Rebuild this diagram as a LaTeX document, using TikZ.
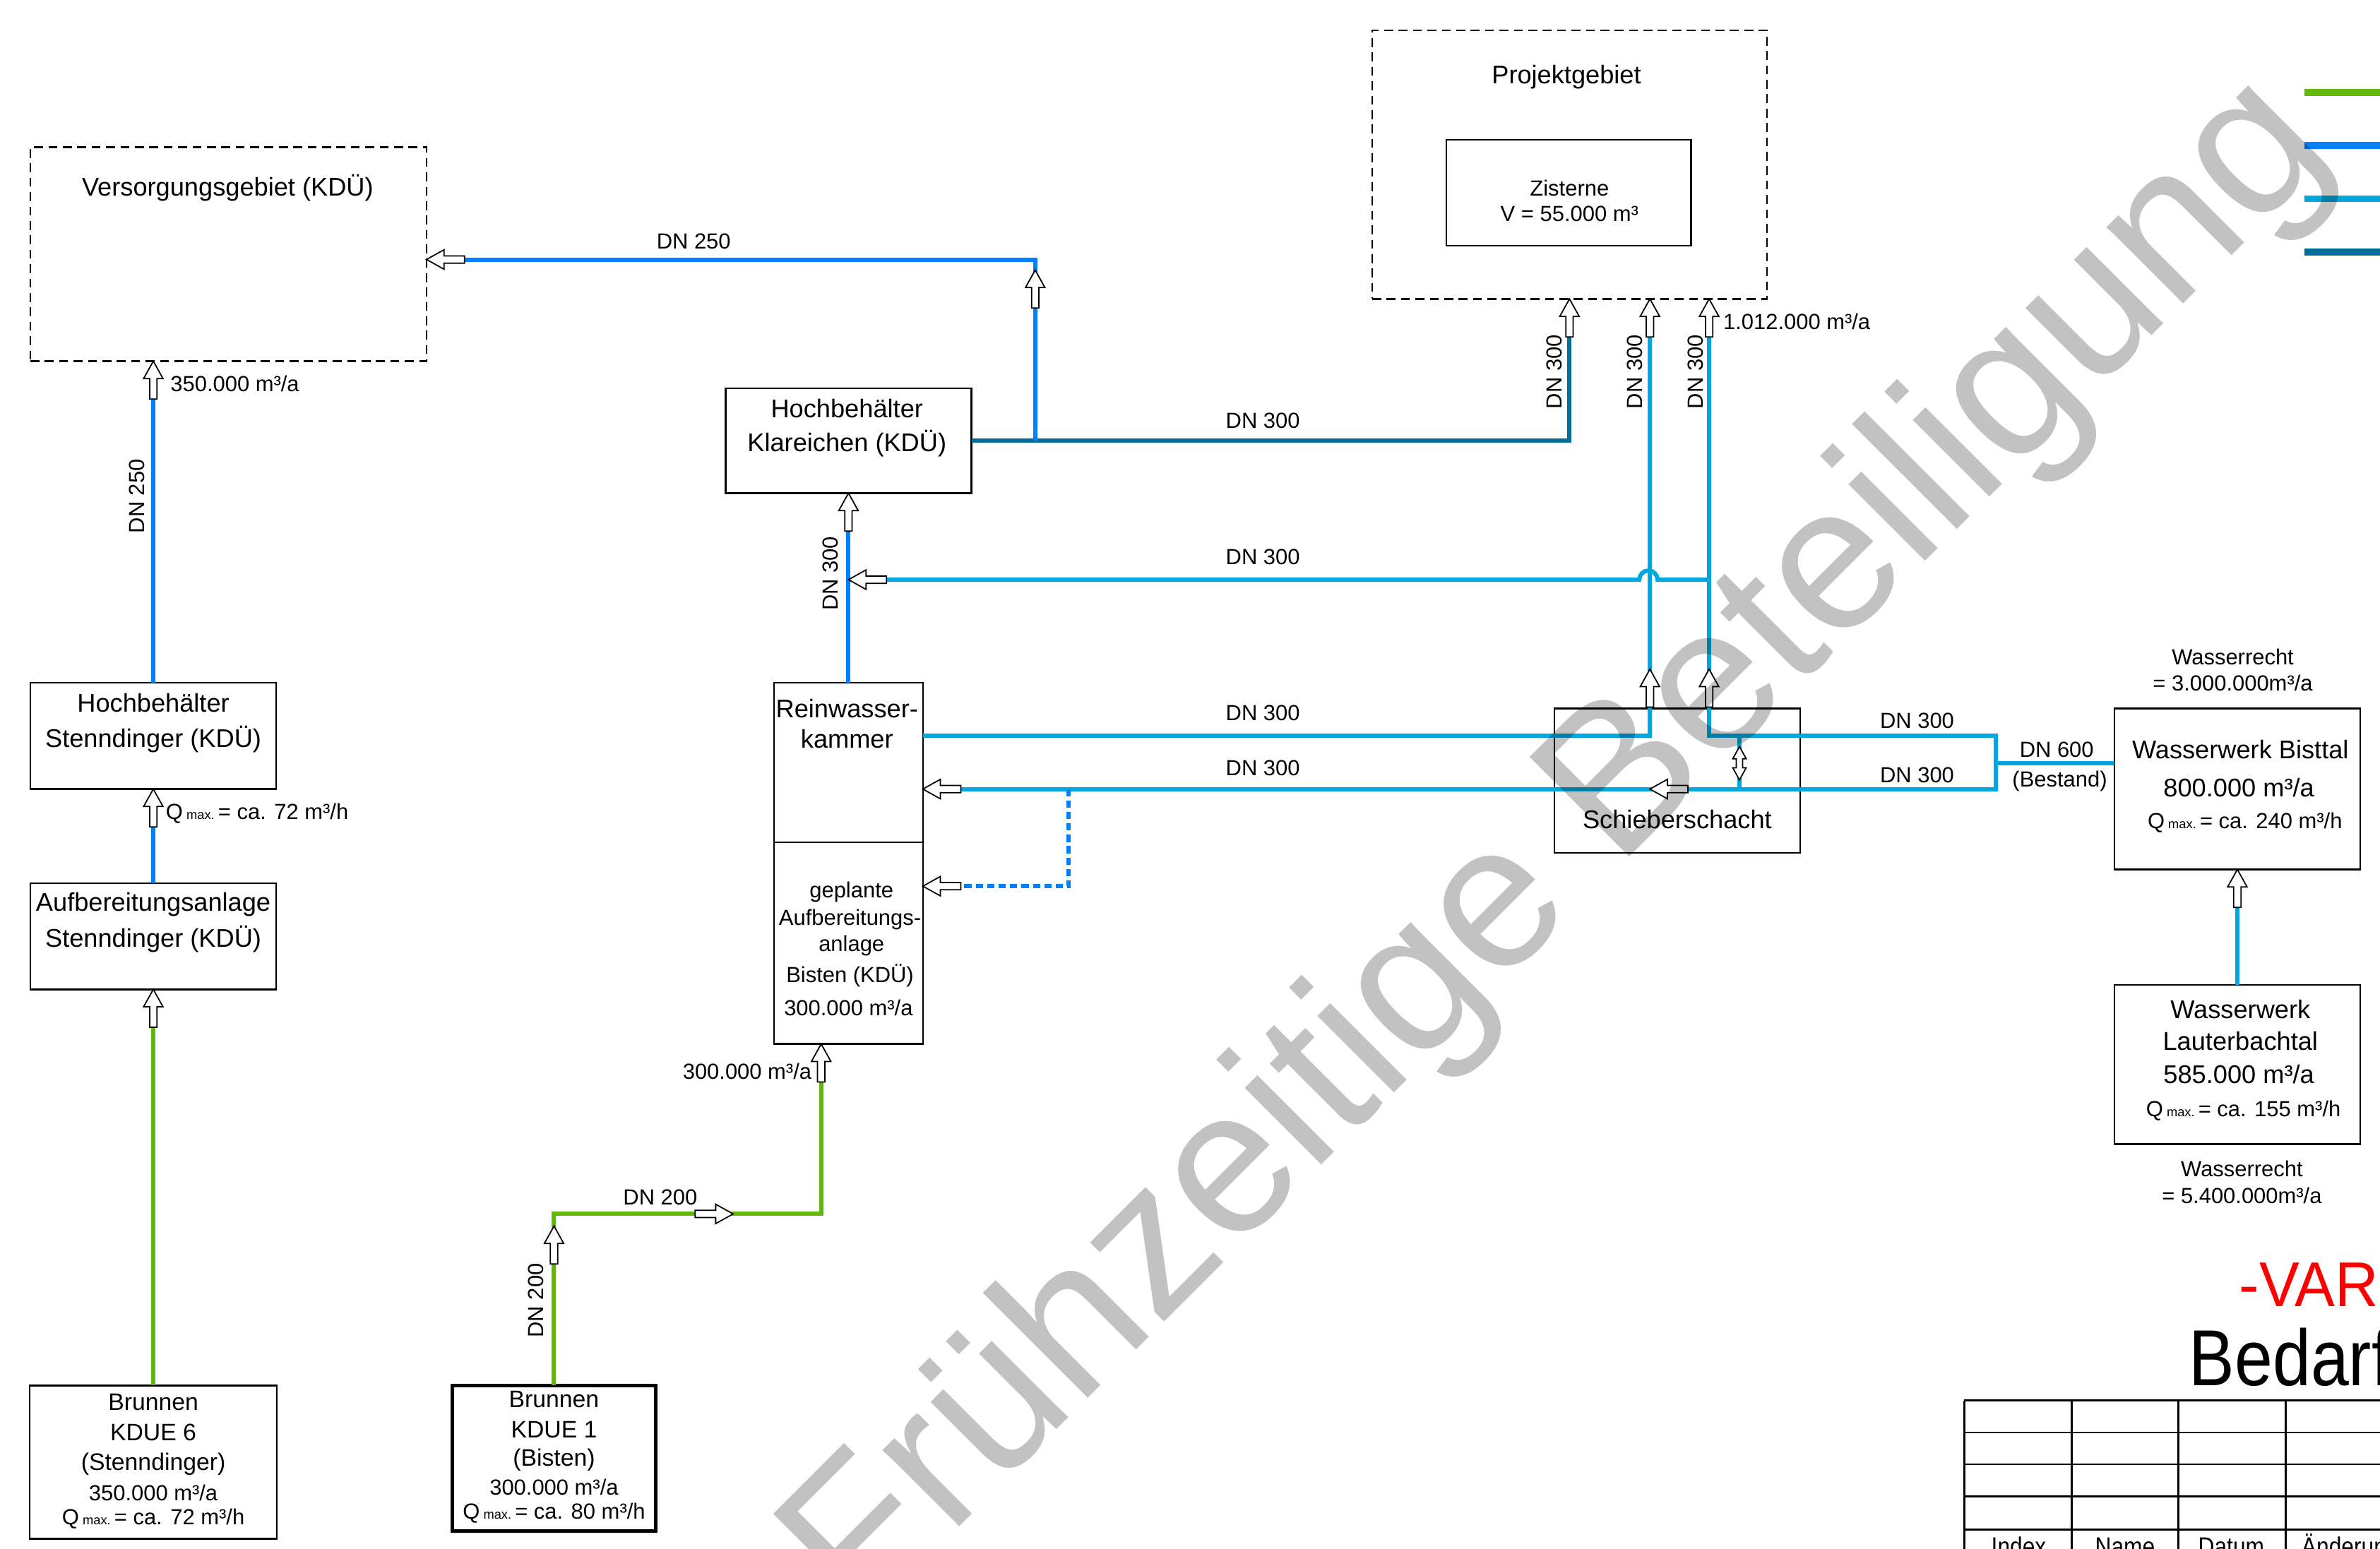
\documentclass[tikz,border=0pt]{standalone}
\usepackage{fontspec}
\setmainfont{Liberation Sans}
\newfontfamily\isofont[FakeStretch=0.86]{Liberation Sans}
\newfontfamily\varfont[FakeStretch=0.95]{Liberation Sans}
\usetikzlibrary{calc}
\definecolor{pgreen}{RGB}{98,184,10}
\definecolor{pblue}{RGB}{0,128,255}
\definecolor{plight}{RGB}{0,166,222}
\definecolor{pteal}{RGB}{0,110,150}
\definecolor{vred}{RGB}{255,0,0}
\def\px{0.021492cm}
\newcommand\qmax{Q\,{\fontsize{5.2}{6}\selectfont max.}\,}
\begin{document}
\begin{tikzpicture}[x=0.021492cm,y=-0.021492cm,
  box/.style={draw=black,line width=0.7pt,inner sep=0pt,outer sep=0pt},
  dbox/.style={box,dash pattern=on 3.6pt off 2.2pt},
  pipe/.style={line width=1.7pt},
  pG/.style={pipe,draw=pgreen},
  pB/.style={pipe,draw=pblue},
  pL/.style={pipe,draw=plight},
  pT/.style={pipe,draw=pteal},
  pBd/.style={pB,dash pattern=on 2.9pt off 1.7pt},
  lbl/.style={font=\fontsize{8.8}{10}\selectfont,inner sep=0pt},
  mid/.style={font=\fontsize{9.6}{11}\selectfont,inner sep=0pt},
  big/.style={font=\fontsize{10.3}{12}\selectfont,inner sep=0pt},
  cad/.style={font=\isofont\fontsize{10.5}{12}\selectfont,inner sep=0pt},
  uparr/.pic={\draw[black,fill=white,line width=0.5pt,line join=miter]
     (0,0) -- (-6.4,11.5) -- (-2.4,11.5) -- (-2.4,25) -- (2.4,25) -- (2.4,11.5) -- (6.4,11.5) -- cycle;},
  dblarr/.pic={\draw[black,fill=white,line width=0.5pt,line join=miter]
     (0,0) -- (-4.4,8) -- (-2.1,8) -- (-2.1,14) -- (-4.4,14) -- (0,22) -- (4.4,14) -- (2.1,14) -- (2.1,8) -- (4.4,8) -- cycle;},
]
\useasboundingbox (0,0) rectangle (1568,1020.8);
\fill[white] (0,0) rectangle (1568,1020.8);
\clip (0,0) rectangle (1568,1020.8);

% ---------------- boxes
\node[dbox,minimum width={261*\px},minimum height={141*\px}] (vg) at (150.5,167.5) {};
\node[dbox,minimum width={260*\px},minimum height={177*\px}] (pg) at (1034,108.5) {};
\node[box,minimum width={161*\px},minimum height={70*\px}] (zist) at (1033.5,127) {};
\node[box,minimum width={162*\px},minimum height={69*\px}] (hbk) at (559,290.5) {};
\node[box,minimum width={98*\px},minimum height={105*\px}] (rwk) at (559,502.5) {};
\node[box,minimum width={98*\px},minimum height={133*\px}] (aab) at (559,621.5) {};
\node[box,minimum width={162*\px},minimum height={70*\px}] (hbs) at (101,485) {};
\node[box,minimum width={162*\px},minimum height={70*\px}] (aas) at (101,617) {};
\node[box,minimum width={163*\px},minimum height={101*\px}] (br6) at (101,963.5) {};
\node[box,line width=1.3pt,minimum width={134*\px},minimum height={96*\px}] (br1) at (365,961) {};
\node[box,minimum width={162*\px},minimum height={95*\px}] (ss) at (1105,514.5) {};
\node[box,minimum width={162*\px},minimum height={106*\px}] (wb) at (1474,520) {};
\node[box,minimum width={162*\px},minimum height={105*\px}] (wl) at (1474,701.5) {};

% ---------------- junction coordinates
\coordinate (j1) at (682,290.5);
\coordinate (vgin) at (281,171);
\coordinate (a1) at (1087,485);
\coordinate (a2) at (1126,485);
\coordinate (a3) at (1315,485);
\coordinate (a4) at (1315,520);
\coordinate (a5) at (1146,485);
\coordinate (a6) at (1146,520);
\coordinate (a7) at (1126,382);
\coordinate (a8) at (1315,503);
\coordinate (d1) at (704,520);
\coordinate (d2) at (608,584);
\coordinate (g1) at (541,800);
\coordinate (h1) at (559,382);

% ---------------- pipes
\draw[pB] (hbs.north) -- ($(hbs.north |- vg.south)+(0,25)$);
\draw[pB] (aas.north) -- ($(hbs.south)+(0,25)$);
\draw[pG] (br6.north) -- ($(aas.south)+(0,25)$);
\draw[pB] (rwk.north) -- ($(hbk.south)+(0,25)$);
\draw[pT] (hbk.east) -| ($(pg.south)+(0,25)$);
\draw[pB] (j1) |- ($(vgin)+(25,0)$);
\draw[pL] (a1 -| rwk.east) -- (a1) -- ($(a1 |- pg.south)+(0,25)$);
\draw[pL] ($(a2 |- pg.south)+(0,25)$) -- (a2) -- (a3) -- (a4) -- ($(a4 -| rwk.east)+(25,0)$);
\draw[pL] ($(h1)+(25,0)$) -- (1080,382) arc[start angle=180,end angle=360,radius=6] -- (a7);
\draw[pL] (a5) -- (a6);
\draw[pL] (a8) -- (a8 -| wb.west);
\draw[pL] (wl.north) -- ($(wb.south)+(0,25)$);
\draw[pBd] (d1) |- ($(d2)+(25,0)$);
\draw[pG] (br1.north) |- (g1) -- ($(g1 |- aab.south)+(0,25)$);

% ---------------- arrows
\pic at (hbs.north |- vg.south) {uparr};
\pic at (hbs.south) {uparr};
\pic at (aas.south) {uparr};
\pic at (hbk.south) {uparr};
\pic at (682,178) {uparr};
\pic[rotate=90] at (vgin) {uparr};
\pic[rotate=90] at (h1) {uparr};
\pic at (pg.south) {uparr};
\pic at (a1 |- pg.south) {uparr};
\pic at (a2 |- pg.south) {uparr};
\pic at (1087,441) {uparr};
\pic at (1126,441) {uparr};
\pic[rotate=90] at (1087,520) {uparr};
\pic at (1146,492) {dblarr};
\pic[rotate=90] at (a4 -| rwk.east) {uparr};
\pic[rotate=90] at (d2) {uparr};
\pic at (g1 |- aab.south) {uparr};
\pic[rotate=-90] at (483,800) {uparr};
\pic at (365,808) {uparr};
\pic at (wb.south) {uparr};

% ---------------- texts left
\node[big] (tvg) at (150,124) {Versorgungsgebiet (KDÜ)};
\node[lbl,anchor=west] (l350) at (112,253) {350.000 m³/a};
\node[lbl,rotate=90] (dn250a) at (90,327) {DN 250};
\node[big] (hbs1) at (101,463) {Hochbehälter};
\node[big] (hbs2) at (101,487) {Stenndinger (KDÜ)};
\node[lbl,anchor=west] (q72) at (109,536) {\qmax= ca. 72 m³/h};
\node[big] (aas1) at (101,596) {Aufbereitungsanlage};
\node[big] (aas2) at (101,619) {Stenndinger (KDÜ)};
\node[mid] (b61) at (101,924) {Brunnen};
\node[mid] (b62) at (101,944) {KDUE 6};
\node[mid] (b63) at (101,965) {(Stenndinger)};
\node[lbl] (b64) at (101,984) {350.000 m³/a};
\node[lbl] (b65) at (101,1001) {\qmax= ca. 72 m³/h};
\node[mid] (b11) at (365,922) {Brunnen};
\node[mid] (b12) at (365,942) {KDUE 1};
\node[mid] (b13) at (365,962) {(Bisten)};
\node[lbl] (b14) at (365,980) {300.000 m³/a};
\node[lbl] (b15) at (365,997) {\qmax= ca. 80 m³/h};
\node[lbl,rotate=90] (dn200v) at (353,857) {DN 200};
\node[lbl] (dn200h) at (435,789) {DN 200};
\node[lbl,anchor=east] (l300) at (535,706) {300.000 m³/a};

% ---------------- texts centre
\node[lbl] (dn250h) at (457,159) {DN 250};
\node[big] (hbk1) at (558,269) {Hochbehälter};
\node[big] (hbk2) at (558,292) {Klareichen (KDÜ)};
\node[lbl,rotate=90] (dn300v) at (547,378) {DN 300};
\node[lbl] (dn3a) at (832,277) {DN 300};
\node[lbl] (dn3b) at (832,367) {DN 300};
\node[lbl] (dn3c) at (832,470) {DN 300};
\node[lbl] (dn3d) at (832,506) {DN 300};
\node[big] (rwk1) at (558,467) {Reinwasser-};
\node[big] (rwk2) at (558,487) {kammer};
\node[lbl] (aab1) at (561,588) {geplante};
\node[lbl] (aab2) at (560,606) {Aufbereitungs-};
\node[lbl] (aab3) at (561,623) {anlage};
\node[lbl] (aab4) at (560,643) {Bisten (KDÜ)};
\node[lbl] (aab5) at (559,664) {300.000 m³/a};

% ---------------- texts top
\node[big] (tpg) at (1032,51) {Projektgebiet};
\node[lbl] (zi1) at (1034,124) {Zisterne};
\node[lbl] (zi2) at (1034,141) {V = 55.000 m³};
\node[lbl,rotate=90] (dn3e) at (1024,245) {DN 300};
\node[lbl,rotate=90] (dn3f) at (1077,245) {DN 300};
\node[lbl,rotate=90] (dn3g) at (1117,245) {DN 300};
\node[lbl,anchor=west] (l1012) at (1135,212) {1.012.000 m³/a};

% ---------------- texts right
\node[big] (tss) at (1105,540) {Schieberschacht};
\node[lbl] (dn3h) at (1263,475) {DN 300};
\node[lbl] (dn3i) at (1263,511) {DN 300};
\node[lbl] (dn600) at (1355,494) {DN 600};
\node[lbl] (best) at (1357,515) {(Bestand)};
\node[lbl] (wr11) at (1471,433) {Wasserrecht};
\node[lbl] (wr12) at (1471,450) {= 3.000.000m³/a};
\node[big] (wb1) at (1476,494) {Wasserwerk Bisttal};
\node[big] (wb2) at (1475,519) {800.000 m³/a};
\node[lbl] (wb3) at (1479,542) {\qmax= ca. 240 m³/h};
\node[big] (wl1) at (1476,665) {Wasserwerk};
\node[big] (wl2) at (1476,686) {Lauterbachtal};
\node[big] (wl3) at (1475,708) {585.000 m³/a};
\node[lbl] (wl4) at (1478,732) {\qmax= ca. 155 m³/h};
\node[lbl] (wr21) at (1477,770) {Wasserrecht};
\node[lbl] (wr22) at (1477,788) {= 5.400.000m³/a};

% ---------------- legend lines
\draw[line width=2.8pt,pgreen] (1518,61) -- (1572,61);
\draw[line width=2.8pt,pblue] (1518,96) -- (1572,96);
\draw[line width=2.8pt,plight] (1518,131) -- (1572,131);
\draw[line width=2.8pt,pteal] (1518,166) -- (1572,166);

% ---------------- title block
\node[anchor=base west,inner sep=0pt,text=vred,font=\varfont\fontsize{25.5}{28}\selectfont] (var) at (1475,861) {-VAR};
\node[anchor=base west,inner sep=0pt,font=\isofont\fontsize{32}{36}\selectfont] (bed) at (1442,913) {Bedarf};
\foreach \yy in {923,944,965,986,1008} \draw[line width=0.8pt] (1294,\yy) -- (1580,\yy);
\foreach \xx in {1294,1365,1435,1506} \draw[line width=0.8pt] (\xx,923) -- (\xx,1030);
\node[cad,anchor=base] (ti1) at (1330,1025) {Index};
\node[cad,anchor=base] (ti2) at (1400,1025) {Name};
\node[cad,anchor=base] (ti3) at (1470,1025) {Datum};
\node[cad,anchor=base west] (ti4) at (1516,1025) {Änderung};

% ---------------- watermark
\node[rotate=45,inner sep=0pt,text=black,opacity=0.24,font=\fontsize{82.5}{90}\selectfont] (wm) at (1028,561) {Frühzeitige Beteiligung};
\end{tikzpicture}
\end{document}
